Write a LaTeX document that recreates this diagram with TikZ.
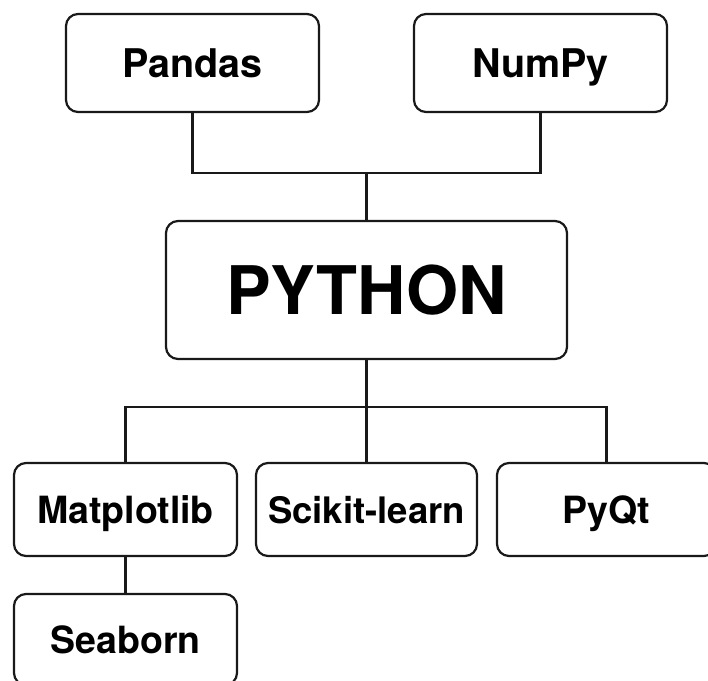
\documentclass[tikz,border=0pt]{standalone}
\usepackage{fontspec}
\setmainfont{TeX Gyre Heros}
\begin{document}
\begin{tikzpicture}[x=1pt,y=-1pt,
  box/.style={draw=black!90, line width=2.2pt, rounded corners=12pt, fill=white, inner sep=0pt, text depth=0pt},
  topbox/.style={box, minimum width=253pt, minimum height=98pt, font=\bfseries\fontsize{39.5}{45}\selectfont, text height=28.4pt},
  mainbox/.style={box, minimum width=401pt, minimum height=138pt, font=\bfseries\fontsize{67}{75}\selectfont, text height=48.2pt},
  lowbox/.style={box, minimum height=93pt, font=\bfseries\fontsize{37.5}{43}\selectfont, text height=27pt},
  conn/.style={draw=black!90, line width=2.2pt}]
\useasboundingbox (0,0) rectangle (708,680);
\clip (0,0) rectangle (708,680);
\fill[white] (0,0) rectangle (708,680);
\node[topbox] (pandas) at (192.5,63) {Pandas};
\node[topbox] (numpy) at (540.5,63) {NumPy};
\node[mainbox] (python) at (366.5,290) {PYTHON};
\node[lowbox, minimum width=223pt] (mpl) at (125.5,509.5) {Matplotlib};
\node[lowbox, minimum width=221pt, font=\bfseries\fontsize{36.5}{42}\selectfont] (sk) at (366.5,509.5) {Scikit-learn};
\node[lowbox, minimum width=219pt] (pyqt) at (606.5,509.5) {PyQt};
\node[lowbox, minimum width=223pt, minimum height=91pt] (sea) at (125.5,639.5) {Seaborn};
\coordinate (jt) at (366.5,173);
\coordinate (jb) at (366.5,407);
\draw[conn] (pandas.south) |- (jt) -| (numpy.south);
\draw[conn] (jt) -- (python.north);
\draw[conn] (python.south) -- (sk.north);
\draw[conn] (mpl.north) |- (jb) -| (pyqt.north);
\draw[conn] (mpl.south) -- (sea.north);
\end{tikzpicture}
\end{document}
